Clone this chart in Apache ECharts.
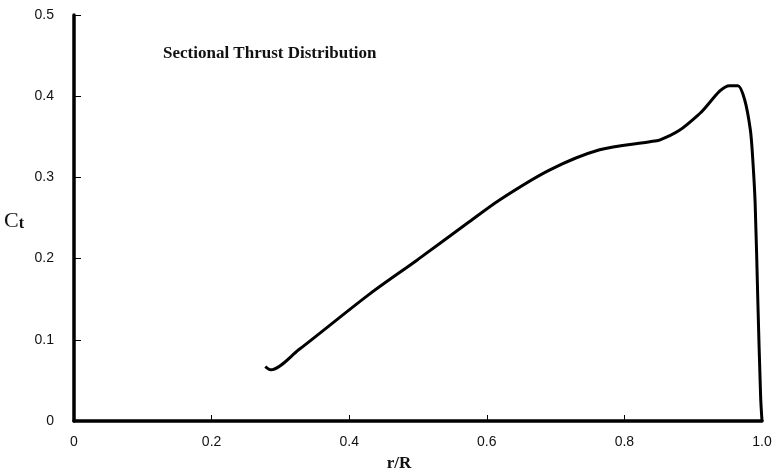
<!DOCTYPE html>
<html>
<head>
<meta charset="utf-8">
<title>Sectional Thrust Distribution</title>
<script src="https://cdn.jsdelivr.net/npm/echarts@6/dist/echarts.min.js"></script>
<style>
  html, body { margin: 0; padding: 0; background: #fff; }
  #graph1 { width: 774px; height: 474px; }
</style>
</head>
<body>
<div id="graph1"></div>
<script>
/* r/R 位置 */
var rR = [0.278, 0.286, 0.327, 0.429, 0.500, 0.574, 0.618, 0.691, 0.764, 0.837, 0.851,
  0.880, 0.910, 0.953, 0.965, 0.975, 0.983, 0.986, 0.990, 0.994, 0.998, 1.0];
/* Ct 值 */
var ct = [0.067, 0.063, 0.088, 0.156, 0.199, 0.245, 0.272, 0.309, 0.334, 0.344, 0.346,
  0.358, 0.379, 0.413, 0.413, 0.395, 0.359, 0.330, 0.269, 0.146, 0.030, 0.0];
// 刻度
var xTicks = [0, 0.2, 0.4, 0.6, 0.8, 1.0];
var yTicks = [0, 0.1, 0.2, 0.3, 0.4, 0.5];

function tickLabel(v) {
  return v === 0 ? '0' : v.toFixed(1);
}

function linechartForThrust(x, y, obj) {
  var myChart = echarts.init(document.getElementById(obj));

  /* 组合数组 */
  var data = [];
  for (var i in x) {
    data[i] = [x[i], y[i]];
  }

  var option = {
    animation: false,
    backgroundColor: '#fff',
    title: {
      text: 'Sectional Thrust Distribution',
      left: 158,
      top: 40,
      textStyle: {
        fontFamily: 'Liberation Serif',
        fontWeight: 'bold',
        fontSize: 17,
        color: '#111'
      }
    },
    grid: {
      left: 74,
      right: 12,
      top: 15,
      bottom: 53,
      outerBoundsMode: 'none'
    },
    xAxis: {
      type: 'value',
      min: xTicks[0],
      max: xTicks[xTicks.length - 1],
      interval: 0.2,
      name: 'r/R',
      nameLocation: 'middle',
      nameGap: 34,
      nameTextStyle: {
        fontFamily: 'Liberation Serif',
        fontWeight: 'bold',
        fontSize: 17,
        color: '#111',
        padding: [0, 38, 0, 0]
      },
      axisLine: { lineStyle: { color: '#000', width: 3.5 } },
      axisTick: { inside: true, length: 6, lineStyle: { color: '#000', width: 1 } },
      splitLine: { show: false },
      axisLabel: {
        margin: 14,
        formatter: tickLabel,
        fontFamily: 'Liberation Sans',
        fontSize: 14,
        color: '#111'
      }
    },
    yAxis: {
      type: 'value',
      min: yTicks[0],
      max: yTicks[yTicks.length - 1],
      interval: 0.1,
      name: '{c|C}{t|t}',
      nameLocation: 'middle',
      nameRotate: 0,
      nameGap: 50,
      nameTextStyle: {
        rich: {
          c: { fontFamily: 'Liberation Serif', fontSize: 22, color: '#111', verticalAlign: 'bottom' },
          t: { fontFamily: 'Liberation Serif', fontWeight: 'bold', fontSize: 16, color: '#111', padding: [12, 0, 0, 0], verticalAlign: 'bottom' }
        }
      },
      axisLine: { show: true, lineStyle: { color: '#000', width: 3.5 } },
      axisTick: { show: true, inside: true, length: 7, lineStyle: { color: '#000', width: 1 } },
      splitLine: { show: false },
      axisLabel: {
        margin: 20,
        formatter: tickLabel,
        fontFamily: 'Liberation Sans',
        fontSize: 14,
        color: '#111'
      }
    },
    series: [
      {
        type: 'line',
        data: data,
        smooth: 0.3,
        smoothMonotone: 'none',
        showSymbol: false,
        lineStyle: {
          color: '#000',
          width: 3
        }
      }
    ]
  };

  myChart.setOption(option);
}

linechartForThrust(rR, ct, 'graph1');
</script>
</body>
</html>
